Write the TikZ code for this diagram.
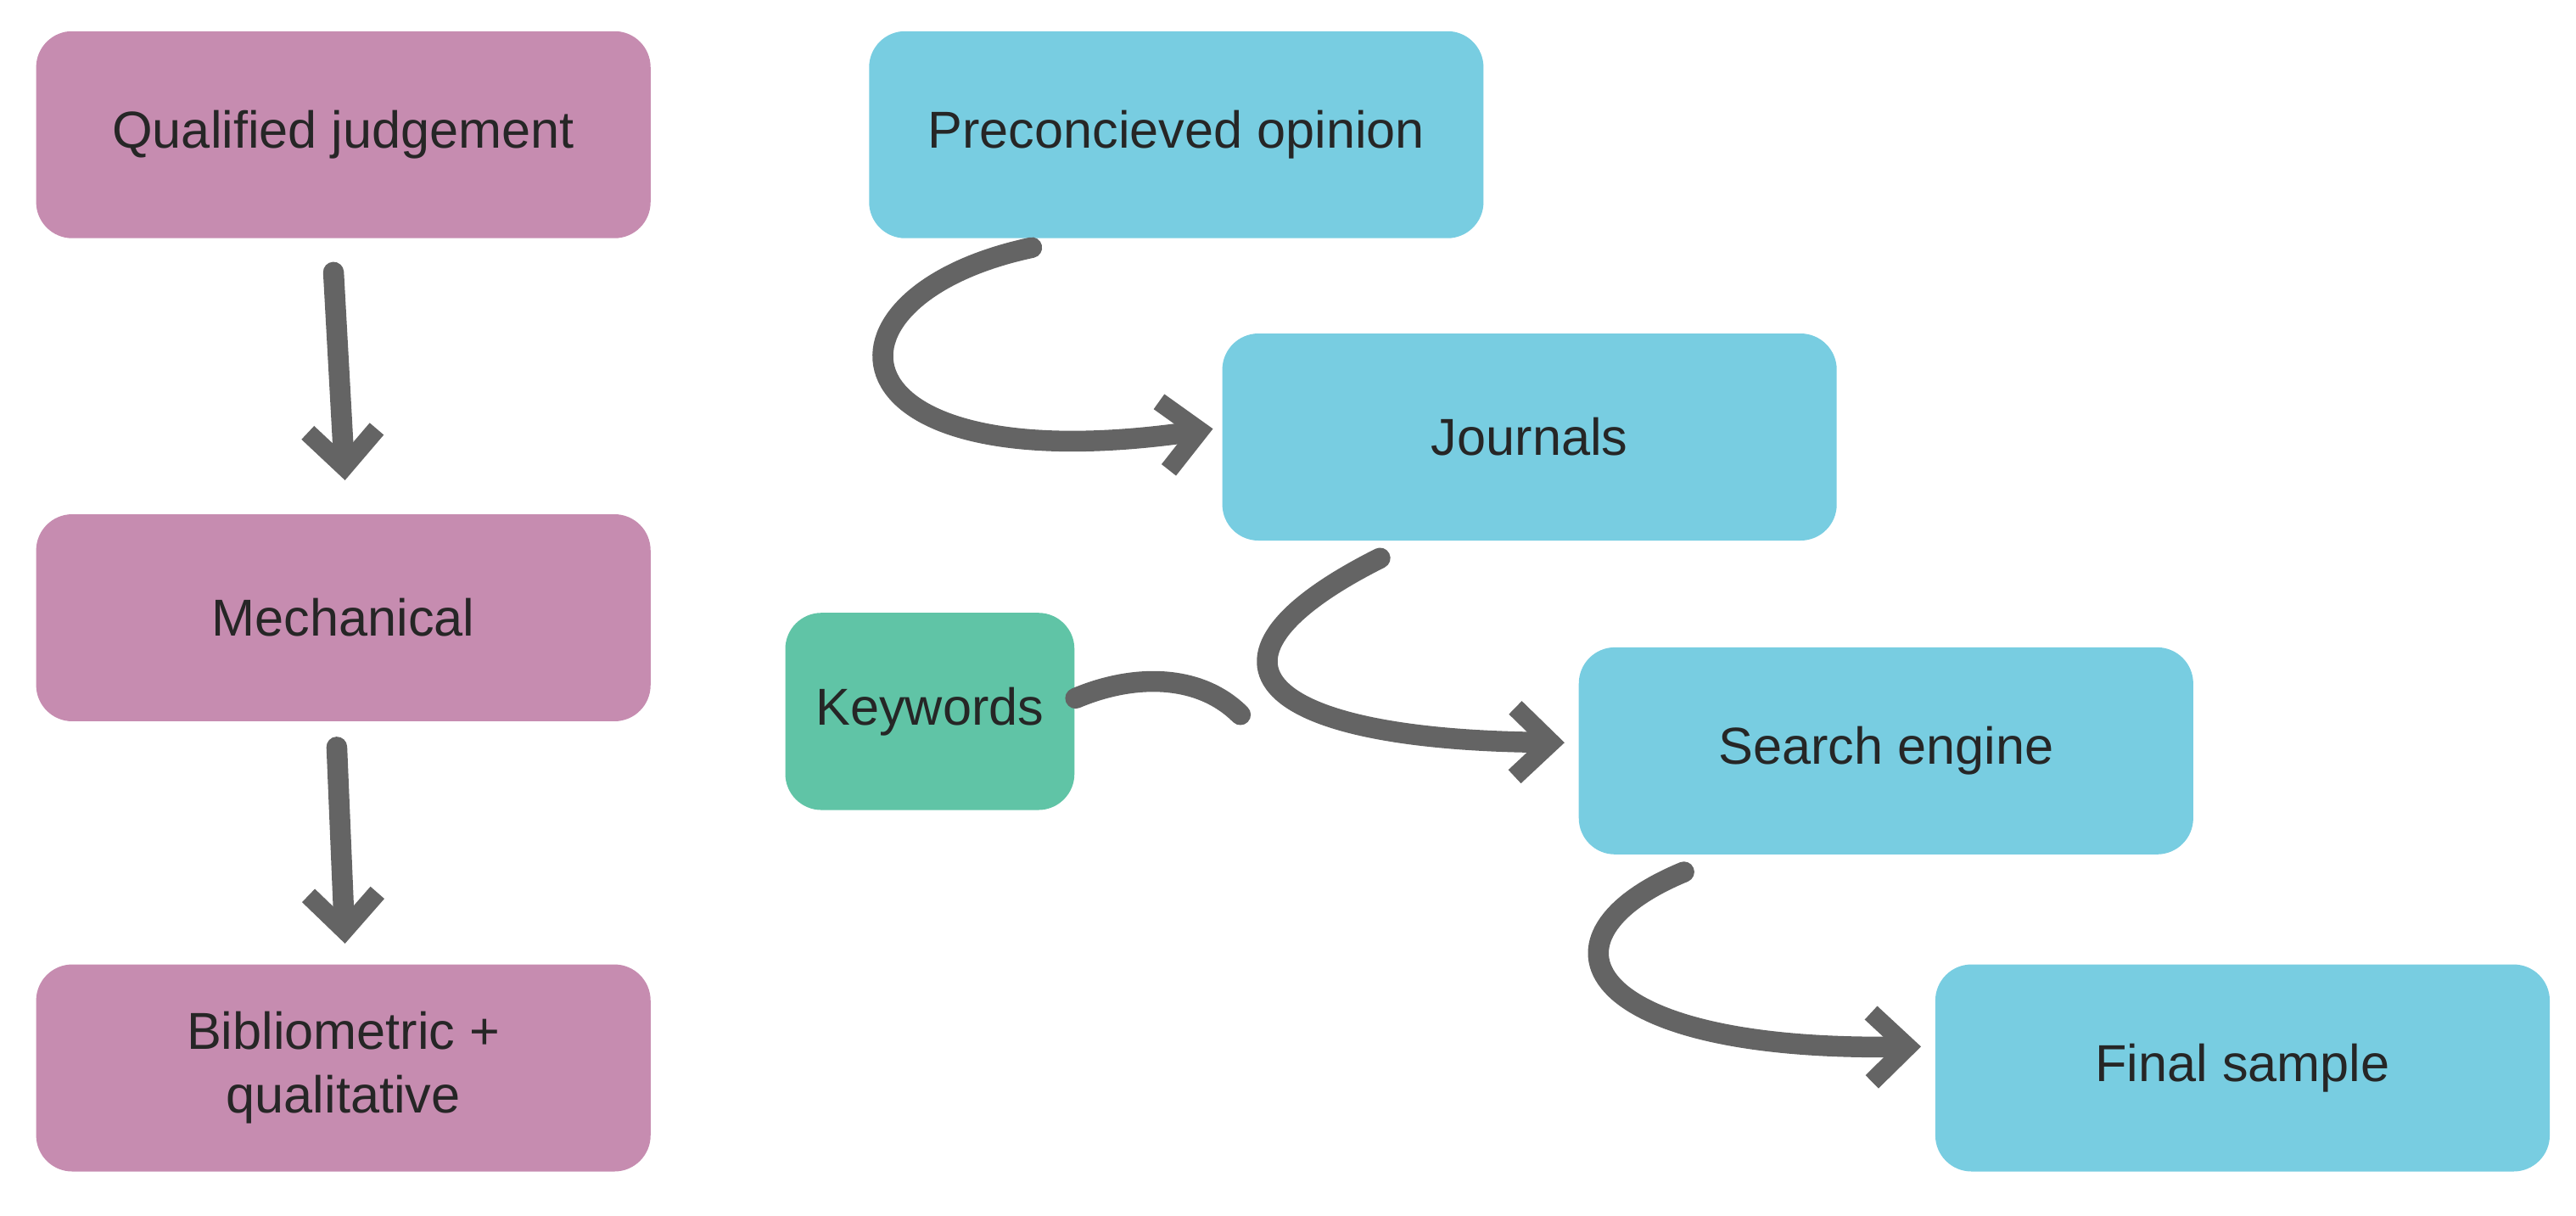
\documentclass[tikz,border=0pt]{standalone}
\usepackage{fontspec}
\setmainfont{Liberation Sans}
\usetikzlibrary{calc,arrows.meta}
\definecolor{pinkbox}{RGB}{198,140,176}
\definecolor{bluebox}{RGB}{120,205,225}
\definecolor{greenbox}{RGB}{96,196,166}
\definecolor{arrowgray}{RGB}{100,100,100}
\begin{document}
\begin{tikzpicture}[x=1cm,y=1cm]
  % Estilos
  \tikzstyle{box} = [rounded corners=0.22cm, text centered, minimum width=3.74cm, minimum height=1.26cm, font=\fontsize{9}{11}\selectfont, align=center, text=black!85];
  \tikzstyle{pinkbox} = [box, fill=pinkbox];
  \tikzstyle{bluebox} = [box, fill=bluebox];
  \tikzstyle{greenbox} = [box, fill=greenbox, minimum width=1.76cm, minimum height=1.2cm];
  \tikzstyle{flow} = [draw=arrowgray, line width=3.6pt, line cap=round, -{Straight Barb[length=0.22cm, width=0.42cm, line width=3.2pt]}];

  \useasboundingbox (0,0) rectangle (15.68,-7.4);

  % Columna izquierda
  \node [pinkbox] (judge) at (2.09,-0.82) {Qualified judgement};
  \node [pinkbox] (mech) at (2.09,-3.76) {Mechanical};
  \node [pinkbox] (biblio) at (2.09,-6.50) {Bibliometric +\\qualitative};

  % Cadena derecha
  \node [bluebox] (opinion) at (7.16,-0.82) {Preconcieved opinion};
  \node [bluebox] (journals) at (9.31,-2.66) {Journals};
  \node [greenbox] (keywords) at (5.66,-4.33) {Keywords};
  \node [bluebox] (engine) at (11.48,-4.57) {Search engine};
  \node [bluebox] (sample) at (13.65,-6.50) {Final sample};

  % Flechas
  \draw [flow] ($(judge.south)+(-0.06,-0.2)$) -- ($(mech.north)+(0.01,0.2)$);
  \draw [flow] ($(mech.south)+(-0.04,-0.15)$) -- ($(biblio.north)+(0.01,0.12)$);
  \draw [flow] ($(opinion.south)+(-0.88,-0.05)$) .. controls (4.9,-1.8) and (5.0,-2.95) .. ($(journals.west)+(-0.05,0.05)$);
  \draw [flow] ($(journals.south)+(-0.91,-0.1)$) .. controls (7.2,-4.0) and (7.6,-4.5) .. ($(engine.west)+(-0.08,0.05)$);
  \draw [draw=arrowgray, line width=3.6pt, line cap=round] (keywords.east) ++(0,0.08) .. controls (6.9,-4.1) and (7.3,-4.1) .. (7.55,-4.35);
  \draw [flow] ($(engine.south)+(-1.23,-0.1)$) .. controls (9.3,-5.7) and (9.6,-6.4) .. ($(sample.west)+(-0.08,0.13)$);
\end{tikzpicture}
\end{document}
